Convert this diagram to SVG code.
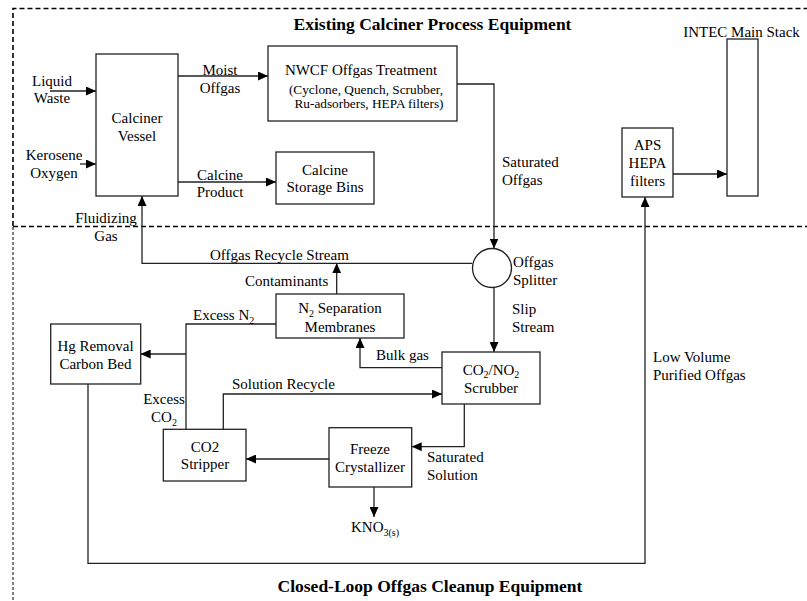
<svg xmlns="http://www.w3.org/2000/svg" width="807" height="601" viewBox="0 0 807 601">
<style>
.t{font-family:"Liberation Serif","Times New Roman",serif;font-size:15px;fill:#000}
.s{font-size:13.3px}
.b{font-weight:bold;font-size:17.5px}
.m{text-anchor:middle}
.box{fill:#fff;stroke:#222;stroke-width:1.3}
.ln{fill:none;stroke:#222;stroke-width:1.3}
.ar{fill:none;stroke:#222;stroke-width:1.3;marker-end:url(#ah)}
.dash1{fill:none;stroke:#000;stroke-width:1.6;stroke-dasharray:5,3}
.dash2{fill:none;stroke:#000;stroke-width:1;stroke-dasharray:3,2}
</style>
<defs>
<marker id="ah" markerUnits="userSpaceOnUse" markerWidth="10" markerHeight="9" refX="10" refY="4.5" orient="auto">
<path d="M0,0 L10,4.5 L0,9 z" fill="#000"/>
</marker>
</defs>
<rect width="807" height="601" fill="#fff"/>

<g id="regions">
<path class="dash1" d="M13,226 V8.5 H807"/>
<path class="dash1" d="M13,226.5 H807"/>
<path class="dash2" d="M13,227 V601"/>
<text class="t b m" x="432.5" y="30">Existing Calciner Process Equipment</text>
<text class="t b m" x="430" y="591.5">Closed-Loop Offgas Cleanup Equipment</text>
</g>

<g id="connectors">
<path class="ar" d="M50,91 H96"/>
<path class="ar" d="M80,164 H96"/>
<path class="ar" d="M178,76 H268"/>
<path class="ar" d="M178,182 H276"/>
<path class="ar" d="M457,84 H494 V248.5"/>
<path class="ar" d="M472,263.3 H142 V196"/>
<path class="ar" d="M336.7,294 V263.3"/>
<path class="ln" d="M276,324 H186 V429.3"/>
<path class="ar" d="M186,354 H140.7"/>
<path class="ar" d="M494,287.5 V352"/>
<path class="ar" d="M442,367.7 H360 V338"/>
<path class="ar" d="M223.3,429.3 V394 H442"/>
<path class="ar" d="M464.3,404 V446.7 H411.7"/>
<path class="ar" d="M329,459 H246"/>
<path class="ar" d="M374,487 V517"/>
<path class="ar" d="M88,384 V563.3 H645 V197"/>
<path class="ar" d="M673,174 H727"/>
</g>

<g id="labels">
<text class="t m" x="52" y="86">Liquid</text>
<text class="t m" x="52" y="103">Waste</text>
<text class="t m" x="54" y="160">Kerosene</text>
<text class="t m" x="54" y="177.5">Oxygen</text>
<text class="t m" x="220" y="75">Moist</text>
<text class="t m" x="220" y="93">Offgas</text>
<text class="t m" x="220" y="179.5">Calcine</text>
<text class="t m" x="220" y="196.5">Product</text>
<text class="t" x="502" y="167">Saturated</text>
<text class="t" x="502" y="185">Offgas</text>
<text class="t m" x="106" y="223">Fluidizing</text>
<text class="t m" x="106" y="241">Gas</text>
<text class="t" x="210" y="260">Offgas Recycle Stream</text>
<text class="t" x="245" y="286">Contaminants</text>
<text class="t" x="513" y="267">Offgas</text>
<text class="t" x="513" y="285">Splitter</text>
<text class="t" x="193" y="319.5">Excess N<tspan font-size="10" dy="4">2</tspan></text>
<text class="t" x="512" y="314">Slip</text>
<text class="t" x="512" y="331.7">Stream</text>
<text class="t" x="376" y="360">Bulk gas</text>
<text class="t" x="232" y="388.5">Solution Recycle</text>
<text class="t m" x="164" y="403.7">Excess</text>
<text class="t m" x="164" y="421.7">CO<tspan font-size="10" dy="4">2</tspan></text>
<text class="t" x="427" y="462">Saturated</text>
<text class="t" x="427" y="479.7">Solution</text>
<text class="t" x="351" y="531.7">KNO<tspan font-size="10" dy="4">3(s)</tspan></text>
<text class="t" x="653" y="362">Low Volume</text>
<text class="t" x="653" y="380">Purified Offgas</text>
</g>

<g id="calciner-vessel">
<rect class="box" x="96" y="54" width="82" height="142"/>
<text class="t m" x="137" y="123">Calciner</text>
<text class="t m" x="137" y="141">Vessel</text>
</g>

<g id="nwcf">
<rect class="box" x="268" y="46" width="189" height="75"/>
<text class="t m" x="361" y="75">NWCF Offgas Treatment</text>
<text class="t s m" x="366" y="94">(Cyclone, Quench, Scrubber,</text>
<text class="t s m" x="369" y="107.5">Ru-adsorbers, HEPA filters)</text>
</g>

<g id="storage-bins">
<rect class="box" x="276" y="152" width="98" height="52"/>
<text class="t m" x="325" y="175">Calcine</text>
<text class="t m" x="325" y="192">Storage Bins</text>
</g>

<g id="aps-hepa">
<rect class="box" x="622" y="128" width="51" height="69"/>
<text class="t m" x="647.5" y="150">APS</text>
<text class="t m" x="647.5" y="168">HEPA</text>
<text class="t m" x="647.5" y="185.5">filters</text>
</g>

<g id="main-stack">
<rect class="box" x="727" y="39" width="31" height="157"/>
<text class="t m" x="741.5" y="37">INTEC Main Stack</text>
</g>

<g id="splitter">
<circle class="box" cx="492" cy="268" r="19.5"/>
</g>

<g id="n2-membranes">
<rect class="box" x="276" y="294" width="128" height="44"/>
<text class="t m" x="340" y="313.3">N<tspan font-size="10" dy="4">2</tspan><tspan dy="-4"> Separation</tspan></text>
<text class="t m" x="340" y="331.7">Membranes</text>
</g>

<g id="hg-removal">
<rect class="box" x="50.7" y="324" width="90" height="60"/>
<text class="t m" x="95.5" y="351.3">Hg Removal</text>
<text class="t m" x="95.5" y="369">Carbon Bed</text>
</g>

<g id="scrubber">
<rect class="box" x="442" y="352" width="98" height="52"/>
<text class="t m" x="491" y="374.5">CO<tspan font-size="10" dy="3">2</tspan><tspan dy="-3">/NO</tspan><tspan font-size="10" dy="3">2</tspan></text>
<text class="t m" x="491" y="393">Scrubber</text>
</g>

<g id="co2-stripper">
<rect class="box" x="163.3" y="429.3" width="82.7" height="51.7"/>
<text class="t m" x="205" y="452.3">CO2</text>
<text class="t m" x="205" y="469">Stripper</text>
</g>

<g id="freeze-crystallizer">
<rect class="box" x="329" y="427.7" width="82.7" height="59.3"/>
<text class="t m" x="370" y="454.3">Freeze</text>
<text class="t m" x="370" y="472">Crystallizer</text>
</g>
</svg>
